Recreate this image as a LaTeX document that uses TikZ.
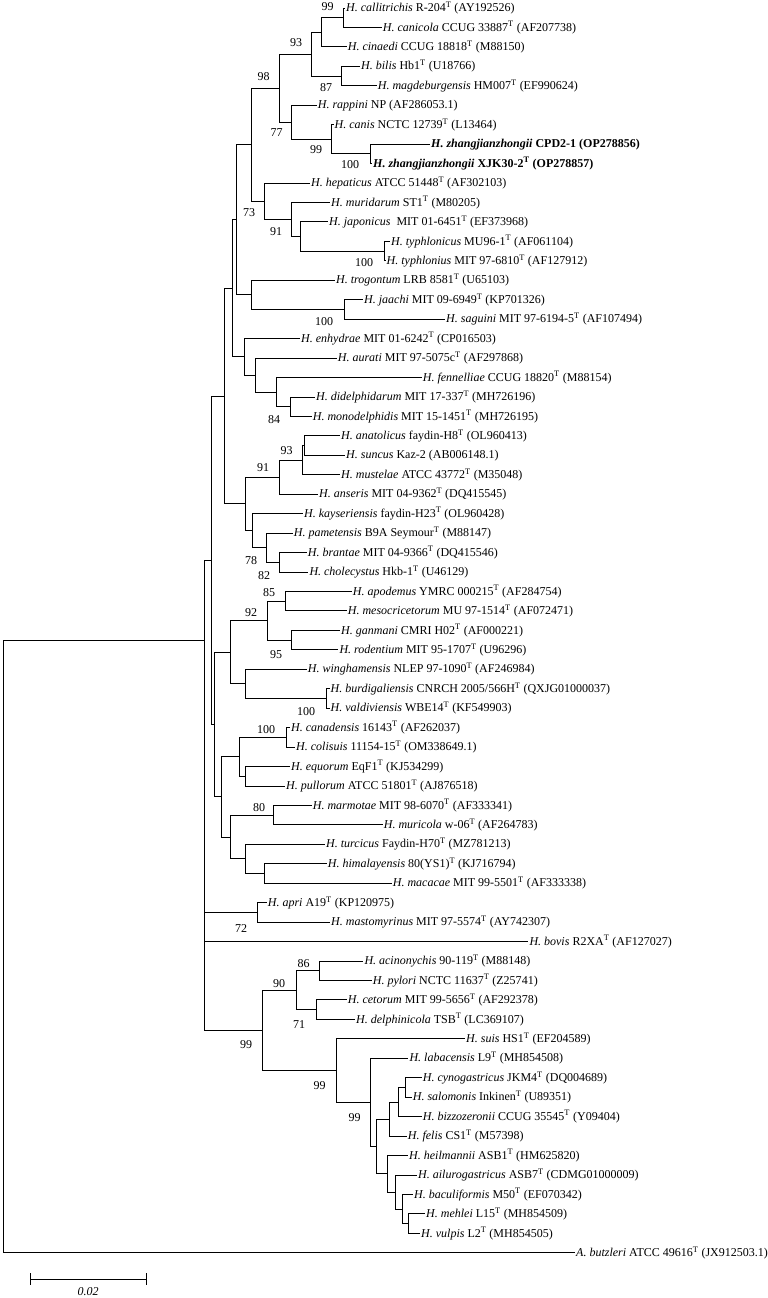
\documentclass[tikz,border=0pt]{standalone}
\usepackage{fontspec}
\setmainfont{Liberation Serif}
\usetikzlibrary{calc}
\newcommand\Ty{\textsuperscript{T}}
\newcommand\leaf[4]{\node[leaf] (#1) at (#2,{ly(#3)}) {#4};}
\newcommand\inode[4]{\path ($(#3)!0.5!(#4)$) coordinate (m#1); \coordinate (#1) at (#2,0 |- m#1); \draw[br] (#1) |- (#3); \draw[br] (#1) |- (#4);}
\begin{document}
\begin{tikzpicture}[x=1bp,y=-1bp,
  declare function={ly(\i)=8+19.45*(\i-1);},
  every node/.style={font=\fontsize{12bp}{14bp}\selectfont},
  leaf/.style={anchor=west,inner xsep=1.2bp,inner ysep=0pt,outer sep=0pt},
  bs/.style={inner sep=0pt},
  br/.style={line width=1bp,black}]
\useasboundingbox (0,0) rectangle (768,1298);
\leaf{L1}{345}{1}{\textit{H. callitrichis} R-204\Ty{} (AY192526)}
\leaf{L2}{381.7}{2}{\textit{H. canicola} CCUG 33887\Ty{} (AF207738)}
\leaf{L3}{346.7}{3}{\textit{H. cinaedi} CCUG 18818\Ty{} (M88150)}
\leaf{L4}{360}{4}{\textit{H. bilis} Hb1\Ty{} (U18766)}
\leaf{L5}{376.7}{5}{\textit{H. magdeburgensis} HM007\Ty{} (EF990624)}
\leaf{L6}{316.7}{6}{\textit{H. rappini} NP (AF286053.1)}
\leaf{L7}{333.5}{7}{\textit{H. canis} NCTC 12739\Ty{} (L13464)}
\leaf{L8}{430}{8}{\textbf{\textit{H. zhangjianzhongii} CPD2-1 (OP278856)}}
\leaf{L9}{372}{9}{\textbf{\textit{H. zhangjianzhongii} XJK30-2\Ty{} (OP278857)}}
\leaf{L10}{310}{10}{\textit{H. hepaticus} ATCC 51448\Ty{} (AF302103)}
\leaf{L11}{330}{11}{\textit{H. muridarum} ST1\Ty{} (M80205)}
\leaf{L12}{328}{12}{\textit{H. japonicus}\ \ MIT 01-6451\Ty{} (EF373968)}
\leaf{L13}{390}{13}{\textit{H. typhlonicus} MU96-1\Ty{} (AF061104)}
\leaf{L14}{385.5}{14}{\textit{H. typhlonius} MIT 97-6810\Ty{} (AF127912)}
\leaf{L15}{335}{15}{\textit{H. trogontum} LRB 8581\Ty{} (U65103)}
\leaf{L16}{363}{16}{\textit{H. jaachi} MIT 09-6949\Ty{} (KP701326)}
\leaf{L17}{445}{17}{\textit{H. saguini} MIT 97-6194-5\Ty{} (AF107494)}
\leaf{L18}{300}{18}{\textit{H. enhydrae} MIT 01-6242\Ty{} (CP016503)}
\leaf{L19}{336.7}{19}{\textit{H. aurati} MIT 97-5075c\Ty{} (AF297868)}
\leaf{L20}{421.7}{20}{\textit{H. fennelliae} CCUG 18820\Ty{} (M88154)}
\leaf{L21}{315}{21}{\textit{H. didelphidarum} MIT 17-337\Ty{} (MH726196)}
\leaf{L22}{311.7}{22}{\textit{H. monodelphidis} MIT 15-1451\Ty{} (MH726195)}
\leaf{L23}{340}{23}{\textit{H. anatolicus} faydin-H8\Ty{} (OL960413)}
\leaf{L24}{345}{24}{\textit{H. suncus} Kaz-2 (AB006148.1)}
\leaf{L25}{340}{25}{\textit{H. mustelae} ATCC 43772\Ty{} (M35048)}
\leaf{L26}{318}{26}{\textit{H. anseris} MIT 04-9362\Ty{} (DQ415545)}
\leaf{L27}{303}{27}{\textit{H. kayseriensis} faydin-H23\Ty{} (OL960428)}
\leaf{L28}{292.7}{28}{\textit{H. pametensis} B9A Seymour\Ty{} (M88147)}
\leaf{L29}{306.7}{29}{\textit{H. brantae} MIT 04-9366\Ty{} (DQ415546)}
\leaf{L30}{308.3}{30}{\textit{H. cholecystus} Hkb-1\Ty{} (U46129)}
\leaf{L31}{351.7}{31}{\textit{H. apodemus} YMRC 000215\Ty{} (AF284754)}
\leaf{L32}{346.7}{32}{\textit{H. mesocricetorum} MU 97-1514\Ty{} (AF072471)}
\leaf{L33}{340}{33}{\textit{H. ganmani} CMRI H02\Ty{} (AF000221)}
\leaf{L34}{338.3}{34}{\textit{H. rodentium} MIT 95-1707\Ty{} (U96296)}
\leaf{L35}{306.7}{35}{\textit{H. winghamensis} NLEP 97-1090\Ty{} (AF246984)}
\leaf{L36}{329.5}{36}{\textit{H. burdigaliensis} CNRCH 2005/566H\Ty{} (QXJG01000037)}
\leaf{L37}{329.5}{37}{\textit{H. valdiviensis} WBE14\Ty{} (KF549903)}
\leaf{L38}{290}{38}{\textit{H. canadensis} 16143\Ty{} (AF262037)}
\leaf{L39}{295}{39}{\textit{H. colisuis} 11154-15\Ty{} (OM338649.1)}
\leaf{L40}{290}{40}{\textit{H. equorum} EqF1\Ty{} (KJ534299)}
\leaf{L41}{285}{41}{\textit{H. pullorum} ATCC 51801\Ty{} (AJ876518)}
\leaf{L42}{311.7}{42}{\textit{H. marmotae} MIT 98-6070\Ty{} (AF333341)}
\leaf{L43}{382.7}{43}{\textit{H. muricola} w-06\Ty{} (AF264783)}
\leaf{L44}{325}{44}{\textit{H. turcicus} Faydin-H70\Ty{} (MZ781213)}
\leaf{L45}{326.7}{45}{\textit{H. himalayensis} 80(YS1)\Ty{} (KJ716794)}
\leaf{L46}{391.7}{46}{\textit{H. macacae} MIT 99-5501\Ty{} (AF333338)}
\leaf{L47}{266.7}{47}{\textit{H. apri} A19\Ty{} (KP120975)}
\leaf{L48}{330}{48}{\textit{H. mastomyrinus} MIT 97-5574\Ty{} (AY742307)}
\leaf{L49}{528.3}{49}{\textit{H. bovis} R2XA\Ty{} (AF127027)}
\leaf{L50}{363.3}{50}{\textit{H. acinonychis} 90-119\Ty{} (M88148)}
\leaf{L51}{371.7}{51}{\textit{H. pylori} NCTC 11637\Ty{} (Z25741)}
\leaf{L52}{346.7}{52}{\textit{H. cetorum} MIT 99-5656\Ty{} (AF292378)}
\leaf{L53}{355}{53}{\textit{H. delphinicola} TSB\Ty{} (LC369107)}
\leaf{L54}{465}{54}{\textit{H. suis} HS1\Ty{} (EF204589)}
\leaf{L55}{408.3}{55}{\textit{H. labacensis} L9\Ty{} (MH854508)}
\leaf{L56}{421.7}{56}{\textit{H. cynogastricus} JKM4\Ty{} (DQ004689)}
\leaf{L57}{411.7}{57}{\textit{H. salomonis} Inkinen\Ty{} (U89351)}
\leaf{L58}{421.7}{58}{\textit{H. bizzozeronii} CCUG 35545\Ty{} (Y09404)}
\leaf{L59}{406.7}{59}{\textit{H. felis} CS1\Ty{} (M57398)}
\leaf{L60}{408}{60}{\textit{H. heilmannii} ASB1\Ty{} (HM625820)}
\leaf{L61}{417}{61}{\textit{H. ailurogastricus} ASB7\Ty{} (CDMG01000009)}
\leaf{L62}{413}{62}{\textit{H. baculiformis} M50\Ty{} (EF070342)}
\leaf{L63}{425}{63}{\textit{H. mehlei} L15\Ty{} (MH854509)}
\leaf{L64}{420}{64}{\textit{H. vulpis} L2\Ty{} (MH854505)}
\leaf{L65}{575}{65}{\textit{A. butzleri} ATCC 49616\Ty{} (JX912503.1)}
% internal nodes
\inode{ncc}{343.3}{L1}{L2}
\inode{nccc}{321.7}{ncc}{L3}
\inode{nbm}{341.7}{L4}{L5}
\inode{nn93}{311}{nccc}{nbm}
\inode{nzh}{370.7}{L8}{L9}
\inode{ncz}{331.7}{L7}{nzh}
\inode{nrc}{291.7}{L6}{ncz}
\inode{nn98}{279}{nn93}{nrc}
\inode{nty}{384}{L13}{L14}
\inode{njt}{300}{L12}{nty}
\inode{nmj}{291.7}{L11}{njt}
\inode{nn73}{264}{L10}{nmj}
\inode{nA}{251}{nn98}{nn73}
\inode{njs}{344}{L16}{L17}
\inode{ntj}{251.7}{L15}{njs}
\inode{nB}{236}{nA}{ntj}
\inode{ndm}{290}{L21}{L22}
\inode{nfd}{276}{L20}{ndm}
\inode{naf}{255}{L19}{nfd}
\inode{nea}{244}{L18}{naf}
\inode{nC}{232}{nB}{nea}
\inode{nas}{304.5}{L23}{L24}
\inode{nasm}{302.3}{nas}{L25}
\inode{nn91}{279}{nasm}{L26}
\inode{nbc}{279.3}{L29}{L30}
\inode{npb}{266.7}{L28}{nbc}
\inode{nkp}{252.7}{L27}{npb}
\inode{nD}{245}{nn91}{nkp}
\inode{GA}{224}{nC}{nD}
\inode{nam}{285.7}{L31}{L32}
\inode{ngr}{291.7}{L33}{L34}
\inode{nn92}{267.7}{nam}{ngr}
\inode{nbv}{326.7}{L36}{L37}
\inode{nwb}{245}{L35}{nbv}
\inode{GB}{230.7}{nn92}{nwb}
\inode{ncc2}{286.7}{L38}{L39}
\inode{nep}{245}{L40}{L41}
\inode{GC}{239.3}{ncc2}{nep}
\inode{nmm}{273.3}{L42}{L43}
\inode{nhm}{264}{L45}{L46}
\inode{nth}{245}{L44}{nhm}
\inode{GD}{230.7}{nmm}{nth}
\inode{GCD}{221.7}{GC}{GD}
\inode{GBCD}{214}{GB}{GCD}
\inode{EH}{211.7}{GA}{GBCD}
\inode{napri}{257.3}{L47}{L48}
\inode{nap}{319.3}{L50}{L51}
\inode{ncd}{316}{L52}{L53}
\inode{nn90}{296}{nap}{ncd}
\inode{ncs}{405}{L56}{L57}
\inode{ncsb}{398.3}{ncs}{L58}
\inode{nfel}{389.3}{ncsb}{L59}
\inode{nH1}{408}{L63}{L64}
\inode{nH2}{402}{L62}{nH1}
\inode{nH3}{395}{L61}{nH2}
\inode{nH4}{387}{L60}{nH3}
\inode{nH5}{376.7}{nfel}{nH4}
\inode{nlab}{370.7}{L55}{nH5}
\inode{nsuis}{336.7}{L54}{nlab}
\inode{GAS}{262.7}{nn90}{nsuis}
\coordinate (Hel) at (204,640);
\draw[br] (Hel) |- (EH);
\draw[br] (Hel) |- (napri);
\draw[br] (Hel) |- (L49);
\draw[br] (Hel) |- (GAS);
\coordinate (root) at (3,946);
\draw[br] (root) |- (Hel);
\draw[br] (root) |- (L65);
% bootstrap values
\foreach \x/\y/\t in {327.5/7/99, 296/43/93, 326/88/87, 263.5/77/98, 276.5/133/77, 316/150/99, 350/165/100, 249/213/73, 276/232/91, 364/263/100, 324/322/100, 274/420/84, 286.5/451/93, 263/468/91, 251/561/78, 264/576/82, 269/593/85, 251/613/92, 276/655/95, 306/712/100, 266/730/100, 259/808/80, 241/929/72, 303.5/964/86, 279/984/90, 299/1025/71, 246/1045/99, 319.5/1086/99, 354.5/1118/99}
  \node[bs] (b\x) at (\x,\y) {\t};
% scale bar
\coordinate (sbA) at (30,1279);
\coordinate (sbB) at (146,1279);
\draw[br] (sbA) -- (sbB);
\draw[br] ($(sbA)+(0,-6)$) -- ($(sbA)+(0,6)$);
\draw[br] ($(sbB)+(0,-6)$) -- ($(sbB)+(0,6)$);
\node[bs] (sbl) at (88,1292) {\textit{0.02}};
\end{tikzpicture}
\end{document}
